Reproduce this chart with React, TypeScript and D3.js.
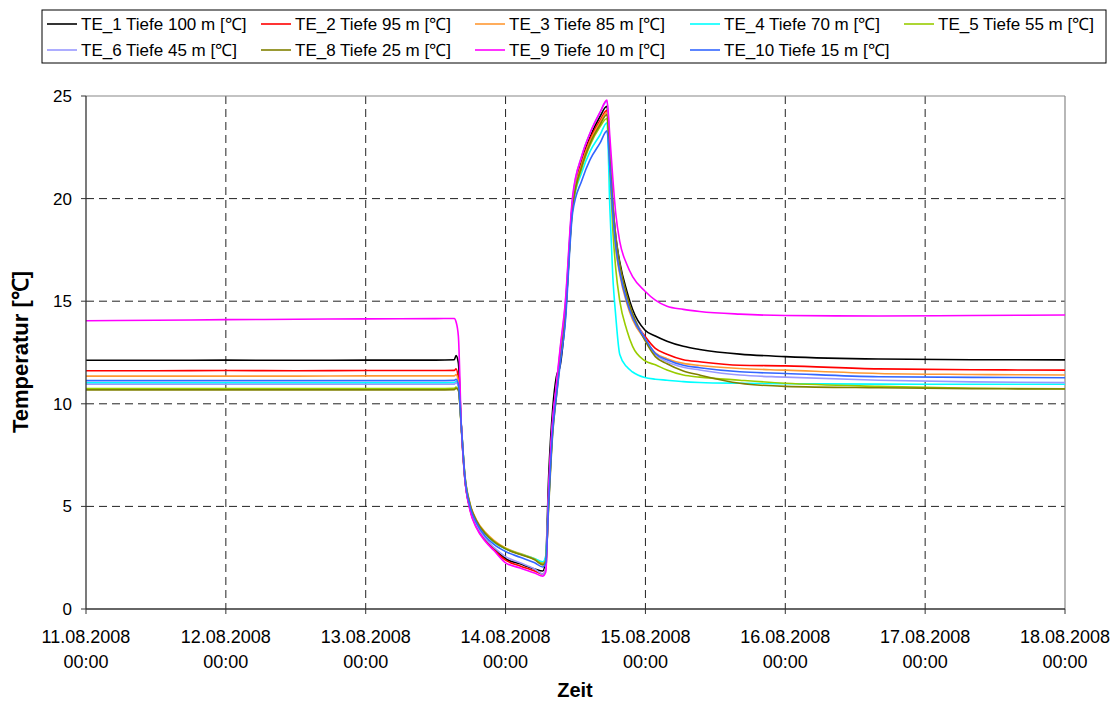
import React from "react";
import * as d3 from "d3";

// ---- Data (hours since 11.08.2008 00:00) ----
const hours = [0, 12, 24, 36, 48, 60, 63.2, 63.5, 63.9, 64.4, 65.0, 65.9, 67.0, 68.5, 70.0, 72.0, 74.5, 77.0, 78.4, 78.9, 79.4, 80.1, 80.7, 81.4, 82.2, 83.5, 85.1, 86.5, 88.2, 89.4, 89.9, 90.4, 90.9, 91.6, 92.8, 93.8, 95.9, 97.7, 99.7, 102.5, 105.3, 112.2, 120, 136, 152, 168];

const te1 = [12.12, 12.12, 12.13, 12.12, 12.13, 12.13, 12.15, 12.35, 12.0, 8.9, 6.4, 4.9, 4.05, 3.4, 2.95, 2.45, 2.2, 1.95, 1.85, 2.5, 6.5, 9.8, 11.3, 11.9, 14.0, 19.8, 21.9, 23.0, 24.0, 24.5, 22.3, 19.8, 18.2, 16.9, 15.5, 14.6, 13.6, 13.3, 13.05, 12.8, 12.65, 12.42, 12.3, 12.18, 12.15, 12.14];
const te2 = [11.61, 11.61, 11.62, 11.61, 11.62, 11.62, 11.63, 11.7, 11.2, 8.9, 6.4, 4.85, 4.0, 3.35, 2.9, 2.38, 2.1, 1.85, 1.7, 1.95, 5.6, 9.1, 10.7, 12.6, 14.5, 19.8, 21.8, 22.9, 23.8, 24.3, 22.0, 19.5, 17.9, 16.6, 15.2, 14.3, 13.3, 12.7, 12.42, 12.15, 12.05, 11.88, 11.85, 11.7, 11.66, 11.64];
const te3 = [11.35, 11.35, 11.35, 11.35, 11.36, 11.36, 11.36, 11.42, 11.1, 9.0, 6.6, 5.15, 4.35, 3.75, 3.35, 2.98, 2.7, 2.45, 2.25, 2.45, 5.3, 8.9, 10.6, 12.5, 14.4, 19.7, 21.7, 22.8, 23.7, 24.2, 21.8, 19.3, 17.6, 16.3, 14.9, 14.1, 13.15, 12.48, 12.2, 11.97, 11.87, 11.72, 11.64, 11.48, 11.43, 11.4];
const te4 = [11.02, 11.02, 11.02, 11.02, 11.02, 11.02, 11.03, 11.1, 10.9, 8.95, 6.55, 5.05, 4.25, 3.65, 3.25, 2.93, 2.68, 2.45, 2.3, 2.6, 5.4, 9.0, 10.6, 12.4, 14.3, 19.6, 21.3, 22.3, 23.1, 23.7, 19.5, 16.2, 14.3, 12.4, 11.8, 11.55, 11.28, 11.2, 11.15, 11.08, 11.04, 11.0, 10.98, 10.96, 10.95, 10.95];
const te5 = [10.74, 10.74, 10.74, 10.74, 10.74, 10.74, 10.75, 10.82, 10.7, 8.9, 6.55, 5.1, 4.3, 3.7, 3.3, 2.95, 2.68, 2.42, 2.2, 2.4, 5.2, 8.8, 10.4, 12.3, 14.2, 19.5, 21.5, 22.6, 23.5, 23.9, 21.5, 18.5, 16.6, 15.0, 13.6, 12.8, 12.1, 11.9, 11.65, 11.4, 11.3, 11.15, 11.0, 10.85, 10.76, 10.73];
const te6 = [10.95, 10.95, 10.95, 10.95, 10.95, 10.95, 10.96, 11.03, 10.85, 8.95, 6.45, 4.95, 4.1, 3.45, 3.0, 2.55, 2.25, 1.95, 1.7, 1.95, 5.7, 9.2, 10.8, 12.7, 14.7, 20.0, 22.1, 23.2, 24.2, 24.75, 22.5, 19.8, 18.1, 16.7, 15.2, 14.4, 13.2, 12.4, 12.05, 11.78, 11.65, 11.4, 11.3, 11.15, 11.07, 11.03];
const te8 = [10.68, 10.68, 10.68, 10.68, 10.68, 10.68, 10.69, 10.76, 10.65, 8.9, 6.5, 5.1, 4.3, 3.68, 3.28, 2.93, 2.65, 2.4, 2.15, 2.3, 5.0, 8.6, 10.3, 12.2, 14.2, 19.6, 21.6, 22.7, 23.6, 24.1, 22.0, 19.7, 18.1, 16.8, 15.3, 14.4, 13.1, 12.3, 11.95, 11.6, 11.4, 11.0, 10.85, 10.78, 10.74, 10.72];
const te9 = [14.05, 14.07, 14.1, 14.12, 14.14, 14.15, 14.16, 14.0, 13.3, 9.0, 6.4, 4.8, 3.95, 3.3, 2.85, 2.25, 2.0, 1.75, 1.6, 1.8, 5.8, 9.3, 10.9, 12.8, 14.8, 20.1, 22.1, 23.2, 24.2, 24.8, 23.0, 21.0, 19.3, 17.9, 16.8, 16.2, 15.5, 15.05, 14.75, 14.6, 14.5, 14.37, 14.3, 14.28, 14.3, 14.33];
const te10 = [11.13, 11.13, 11.13, 11.13, 11.13, 11.13, 11.14, 11.2, 10.95, 8.95, 6.5, 5.0, 4.2, 3.55, 3.15, 2.8, 2.52, 2.25, 2.05, 2.25, 5.2, 8.7, 10.3, 12.0, 13.8, 19.3, 20.9, 21.9, 22.7, 23.3, 21.5, 19.3, 17.7, 16.4, 15.0, 14.2, 13.2, 12.45, 12.15, 11.88, 11.76, 11.56, 11.48, 11.32, 11.29, 11.27];

const seriesNames = [
  "TE_1 Tiefe 100 m [℃]",
  "TE_2 Tiefe 95 m [℃]",
  "TE_3 Tiefe 85 m [℃]",
  "TE_4 Tiefe 70 m [℃]",
  "TE_5 Tiefe 55 m [℃]",
  "TE_6 Tiefe 45 m [℃]",
  "TE_8 Tiefe 25 m [℃]",
  "TE_9 Tiefe 10 m [℃]",
  "TE_10 Tiefe 15 m [℃]",
];
const seriesValues = [te1, te2, te3, te4, te5, te6, te8, te9, te10];
const seriesColors = ["#000000", "#ff0000", "#ff9933", "#00ffff", "#99cc00", "#9999ff", "#808000", "#ff00ff", "#3366ff"];

const yTicks = [0, 5, 10, 15, 20, 25];
const startDate = new Date(2008, 7, 11, 0, 0);
const endDate = new Date(2008, 7, 18, 0, 0);

// ---- Layout ----
const W = 1115;
const H = 702;
const plot = { left: 86, right: 1065, top: 96, bottom: 609 };
const legendCols = [47, 261, 475, 690, 904];
const legendRows = [24, 50];
const FONT = "'Liberation Sans', Arial, sans-serif";

export default function App() {
  const x = d3.scaleTime().domain([startDate, endDate]).range([plot.left, plot.right]);
  const y = d3.scaleLinear().domain([0, 25]).range([plot.bottom, plot.top]);
  const xTicks = d3.timeDay.range(startDate, d3.timeDay.offset(endDate, 1));
  const fmtDate = d3.timeFormat("%d.%m.%Y");
  const fmtTime = d3.timeFormat("%H:%M");
  const toDate = (h: number) => new Date(startDate.getTime() + h * 3600 * 1000);

  const line = d3
    .line<[number, number]>()
    .x((d) => x(toDate(d[0])))
    .y((d) => y(d[1]))
    .curve(d3.curveMonotoneX);

  return (
    <svg width={W} height={H} style={{ position: "absolute", left: 0, top: 0, background: "#fff" }} fontFamily={FONT}>
      <rect x={0} y={0} width={W} height={H} fill="#fff" />
      {/* gridlines */}
      {yTicks.filter((t) => t > 0 && t < 25).map((t) => (
        <line key={"gy" + t} x1={plot.left} x2={plot.right} y1={y(t)} y2={y(t)} stroke="#222" strokeWidth={1} strokeDasharray="8,5" />
      ))}
      {xTicks.slice(1, -1).map((d, i) => (
        <line key={"gx" + i} x1={x(d)} x2={x(d)} y1={plot.top} y2={plot.bottom} stroke="#222" strokeWidth={1} strokeDasharray="8,5" />
      ))}
      {/* plot border top/right */}
      <line x1={plot.left} x2={plot.right} y1={plot.top} y2={plot.top} stroke="#888" strokeWidth={1.2} />
      <line x1={plot.right} x2={plot.right} y1={plot.top} y2={plot.bottom} stroke="#888" strokeWidth={1.2} />
      {/* series */}
      {seriesValues.map((vals, si) => {
        const pts = hours.map((h, i) => [h, vals[i]] as [number, number]);
        return <path key={"s" + si} d={line(pts) || ""} fill="none" stroke={seriesColors[si]} strokeWidth={1.6} />;
      })}
      {/* axes */}
      <line x1={plot.left} x2={plot.left} y1={plot.top} y2={plot.bottom} stroke="#333" strokeWidth={1.3} />
      <line x1={plot.left} x2={plot.right} y1={plot.bottom} y2={plot.bottom} stroke="#333" strokeWidth={1.3} />
      {yTicks.map((t) => (
        <g key={"yt" + t}>
          <line x1={plot.left - 5} x2={plot.left} y1={y(t)} y2={y(t)} stroke="#333" />
          <text x={plot.left - 14} y={y(t)} dy="0.35em" textAnchor="end" fontSize={17}>
            {t}
          </text>
        </g>
      ))}
      {xTicks.map((d, i) => (
        <g key={"xt" + i}>
          <line x1={x(d)} x2={x(d)} y1={plot.bottom} y2={plot.bottom + 5} stroke="#333" />
          <text x={x(d)} y={643} textAnchor="middle" fontSize={18}>
            {fmtDate(d)}
          </text>
          <text x={x(d)} y={668} textAnchor="middle" fontSize={18}>
            {fmtTime(d)}
          </text>
        </g>
      ))}
      <text x={575} y={697} textAnchor="middle" fontSize={20} fontWeight="bold">
        Zeit
      </text>
      <text transform={`translate(28,352) rotate(-90)`} textAnchor="middle" fontSize={22} fontWeight="bold">
        Temperatur [℃]
      </text>
      {/* legend */}
      <rect x={42} y={10} width={1064} height={53} fill="#fff" stroke="#000" strokeWidth={1} />
      {seriesNames.map((name, i) => {
        const row = i < 5 ? 0 : 1;
        const col = i < 5 ? i : i - 5;
        const lx = legendCols[col];
        const ly = legendRows[row];
        return (
          <g key={"lg" + i}>
            <line x1={lx} x2={lx + 30} y1={ly} y2={ly} stroke={seriesColors[i]} strokeWidth={1.6} />
            <text x={lx + 34} y={ly} dy="0.35em" fontSize={17}>
              {name}
            </text>
          </g>
        );
      })}
    </svg>
  );
}
